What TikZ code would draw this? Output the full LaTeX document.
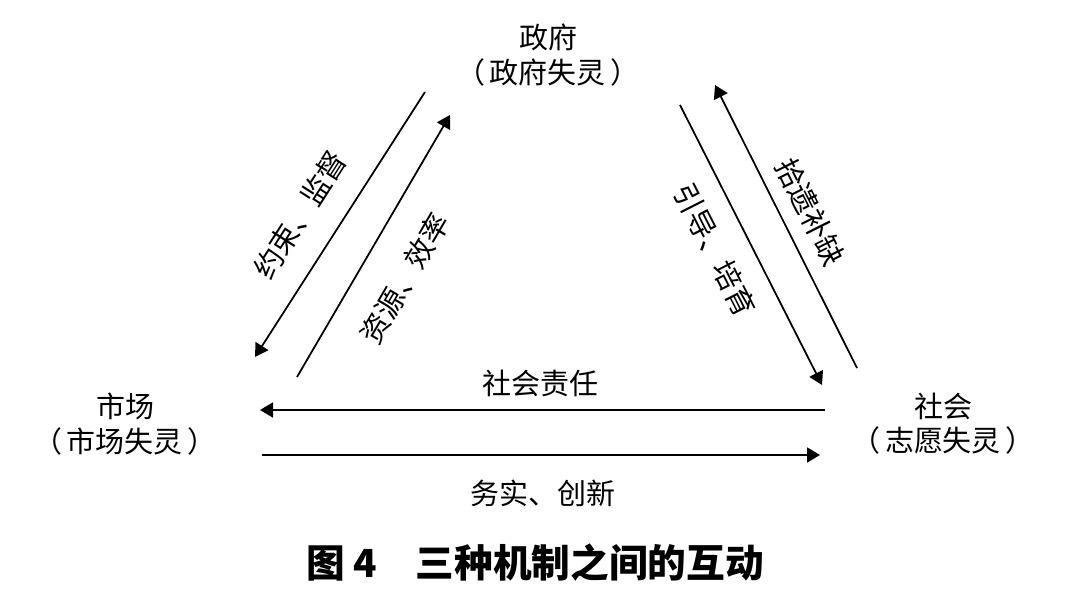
\documentclass[tikz,border=0pt]{standalone}
\usepackage{fontspec}
\newfontfamily\cjk{Noto Sans CJK SC}
\usetikzlibrary{arrows.meta}

\begin{document}
\begin{tikzpicture}[>={Triangle[length=2.6mm, width=3mm]}, every node/.style={font=\cjk\fontsize{16.5}{19.5}\selectfont, inner sep=1pt}]
  \useasboundingbox (0,0) rectangle (21.6,11.9);
  % the three sectors
  \node[align=center] (gov) at (10.96,10.8) {政府\\（\,政府失灵\,）};
  \node[align=center] (mkt) at (2.5,3.42) {市场\\（\,市场失灵\,）};
  \node[align=center] (soc) at (18.86,3.42) {社会\\（\,志愿失灵\,）};
  % arrow ends
  \coordinate (govL1) at (8.5,10.06);
  \coordinate (govL2) at (9.0,9.6);
  \coordinate (govR1) at (13.6,9.8);
  \coordinate (govR2) at (14.3,10.2);
  \coordinate (mktU1) at (5.1,4.76);
  \coordinate (mktU2) at (5.94,4.36);
  \coordinate (mktE1) at (5.2,3.7);
  \coordinate (mktE2) at (5.24,2.8);
  \coordinate (socU1) at (16.44,4.2);
  \coordinate (socU2) at (17.14,4.54);
  \coordinate (socW1) at (16.5,3.7);
  \coordinate (socW2) at (16.4,2.8);
  \begin{scope}[line width=1pt]
    \draw[->] (govL1) -- (mktU1);
    \draw[->] (mktU2) -- (govL2);
    \draw[->] (govR1) -- (socU1);
    \draw[->] (socU2) -- (govR2);
    \draw[->] (socW1) -- (mktE1);
    \draw[->] (mktE2) -- (socW2);
  \end{scope}
  % labels
  \node[rotate=57.3] (restrain) at (6.0,7.6) {约束、监督};
  \node[rotate=59.7] (resource) at (8.1,6.34) {资源、效率};
  \node[rotate=-63.1] (guide) at (14.3,6.9) {引导、培育};
  \node[rotate=-63.4] (fillgap) at (16.2,7.66) {拾遗补缺};
  \node (duty) at (10.8,4.24) {社会责任};
  \node (innov) at (10.86,2.04) {务实、创新};
  % caption
  \node[font=\cjk\bfseries\fontsize{22}{26}\selectfont] (caption) at (10.7,0.64) {图 4\hspace{1em}三种机制之间的互动};
\end{tikzpicture}
\end{document}
